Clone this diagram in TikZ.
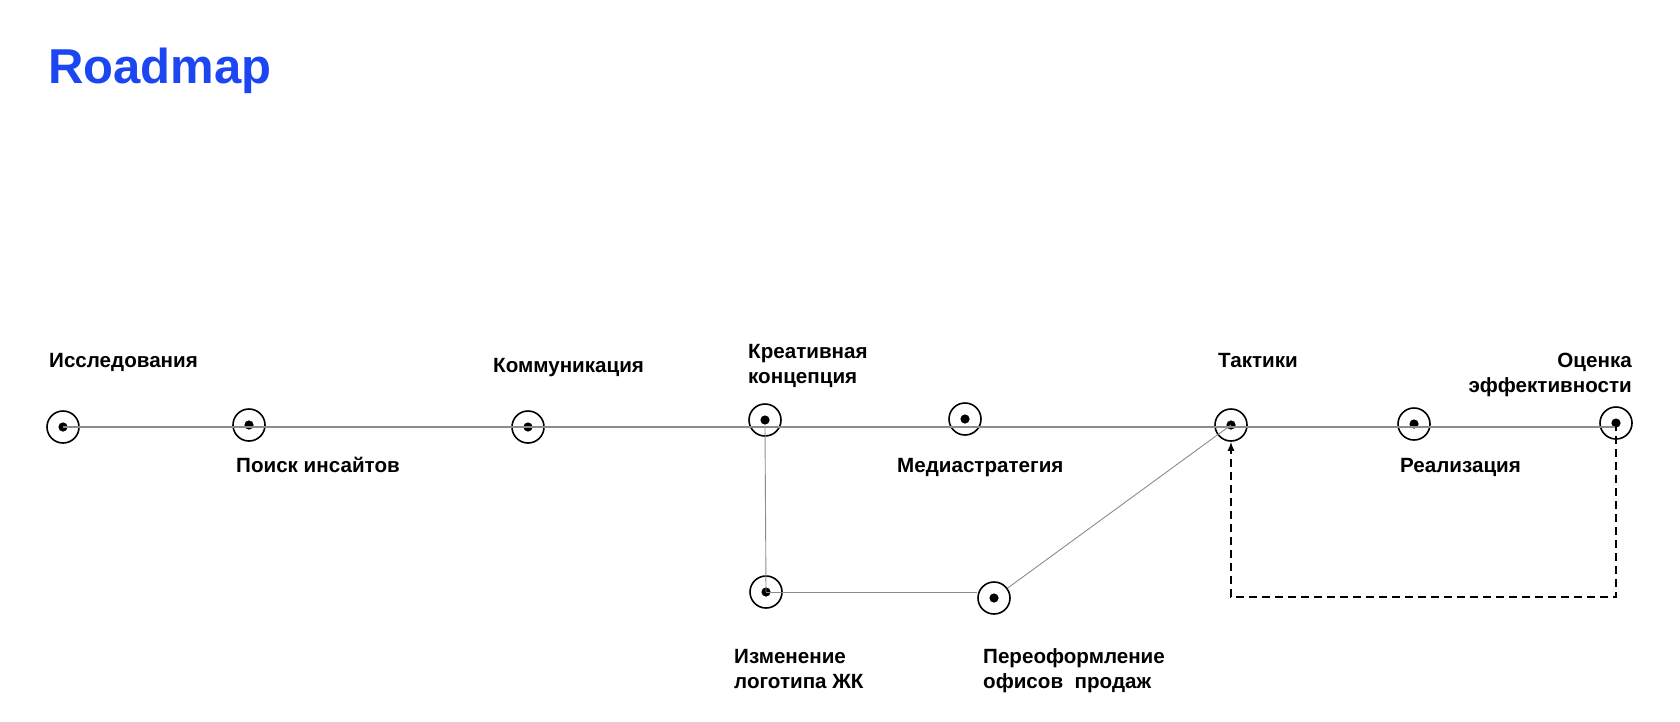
\documentclass[tikz,border=0pt]{standalone}
\usepackage{fontspec}
\setmainfont{Liberation Sans}
\usetikzlibrary{arrows.meta,positioning}
\definecolor{bluex}{HTML}{1B46F2}
\definecolor{trackx}{HTML}{8C8C8C}
\tikzset{
  station/.style={circle,draw,line width=1.6pt,minimum size=32pt,inner sep=0pt,
    path picture={\fill (path picture bounding box.center) circle (4.6pt);}},
  track/.style={trackx,line width=1.3pt},
  link/.style={trackx,line width=0.9pt},
  loopback/.style={line width=1.5pt,dash pattern=on 8pt off 5pt,-{Latex[length=9pt,width=7pt]}},
  lbl/.style={font=\bfseries\fontsize{20.6}{24.5}\selectfont,anchor=base west,inner sep=0pt,align=left}
}

\begin{document}
\begin{tikzpicture}[x=1pt,y=-1pt]
\useasboundingbox[fill=white] (0,0) rectangle (1680,721);
\node[font=\bfseries\fontsize{49}{55}\selectfont,text=bluex,anchor=base west,inner sep=0pt] (title) at (48,83) {Roadmap};
\foreach \n/\x/\y in {iss/63/427,poisk/249/425,komm/528/427,kreat/765/420,media/965/419,
  takt/1231/425,real/1414/424,ots/1616/423,izm/766/592,pereo/994/598}
  \node[station] (\n) at (\x,\y) {};
\coordinate (loop) at (1616,597);
\draw[track] (iss.center) -- (iss.center -| ots.center);
\draw[link] (kreat.center |- iss.center) -- (izm.center);
\draw[link] (izm.center) -- (izm.center -| pereo.west);
\draw[link] (pereo) -- (takt.center);
\draw[loopback] (ots.center) -- (loop) -| (takt.south);
\node[lbl] (iss-t) at (49,367) {Исследования};
\node[lbl] (poisk-t) at (236,472) {Поиск инсайтов};
\node[lbl] (komm-t) at (493,372) {Коммуникация};
\node[lbl] (kreat-t) at (748,383) {Креативная\\концепция};
\node[lbl] (media-t) at (897,472) {Медиастратегия};
\node[lbl] (takt-t) at (1218,367) {Тактики};
\node[lbl] (real-t) at (1400,472) {Реализация};
\node[lbl,anchor=base east,align=right] (ots-t) at (1632,392) {Оценка\\эффективности};
\node[lbl] (izm-t) at (734,688) {Изменение\\логотипа ЖК};
\node[lbl] (pereo-t) at (983,688) {Переоформление\\офисов\ \ продаж};
\end{tikzpicture}
\end{document}
